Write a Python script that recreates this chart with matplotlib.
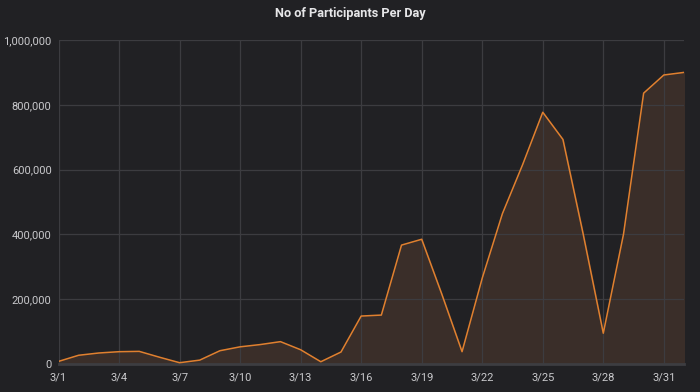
import numpy as np
import matplotlib.pyplot as plt
from matplotlib.ticker import FuncFormatter

# daily participants, 3/1 .. 4/1
days = [f"3/{d}" for d in range(1, 32)] + ["4/1"]
participants = [8000, 27000, 34000, 38000, 39000, 21000, 4000, 12000,
                41000, 53000, 60000, 69000, 44000, 7000, 37000, 148000,
                151000, 367000, 385000, 215000, 38000, 265000, 464000, 615000,
                777000, 693000, 402000, 95000, 400000, 836000, 892000, 900000]

bg = "#212124"
grid_col = "#3c3c40"
text_col = "#c9c9cc"
line_col = "#e0802f"

plt.rcParams['font.family'] = ['Roboto', 'DejaVu Sans']

fig = plt.figure(figsize=(7, 3.92), dpi=100, facecolor=bg)
ax = fig.add_axes([58.5 / 700, 28 / 392, (684 - 58.5) / 700, 324 / 392])
ax.set_facecolor(bg)

x = np.arange(len(participants))
ax.fill_between(x, participants, 0, color="#3a2e29", zorder=1)
ax.plot(x, participants, color=line_col, linewidth=1.1, zorder=3)

ax.set_xlim(0, len(participants) - 1)
ax.set_ylim(0, 1000000)
ax.set_xticks(x[::3])
ax.set_xticklabels(days[::3])
ax.set_yticks(np.arange(0, 1000001, 200000))
ax.yaxis.set_major_formatter(FuncFormatter(lambda v, p: f"{int(v):,}"))

ax.grid(True, color=grid_col, linewidth=0.9, zorder=2)
ax.set_axisbelow(False)
for s in ["top", "right", "left"]:
    ax.spines[s].set_visible(False)
ax.spines["bottom"].set_color("#3d3d41")
ax.spines["bottom"].set_linewidth(2)
ax.tick_params(length=0, colors=text_col, labelsize=8)
ax.tick_params(axis="y", pad=5)
ax.tick_params(axis="x", pad=6)

fig.text(0.5, 1 - 13 / 392, "No of Participants Per Day", color="#e6e6e8",
         fontsize=9.2, fontweight="bold", ha="center", va="center")

fig.savefig("out.png", dpi=100, facecolor=bg)
